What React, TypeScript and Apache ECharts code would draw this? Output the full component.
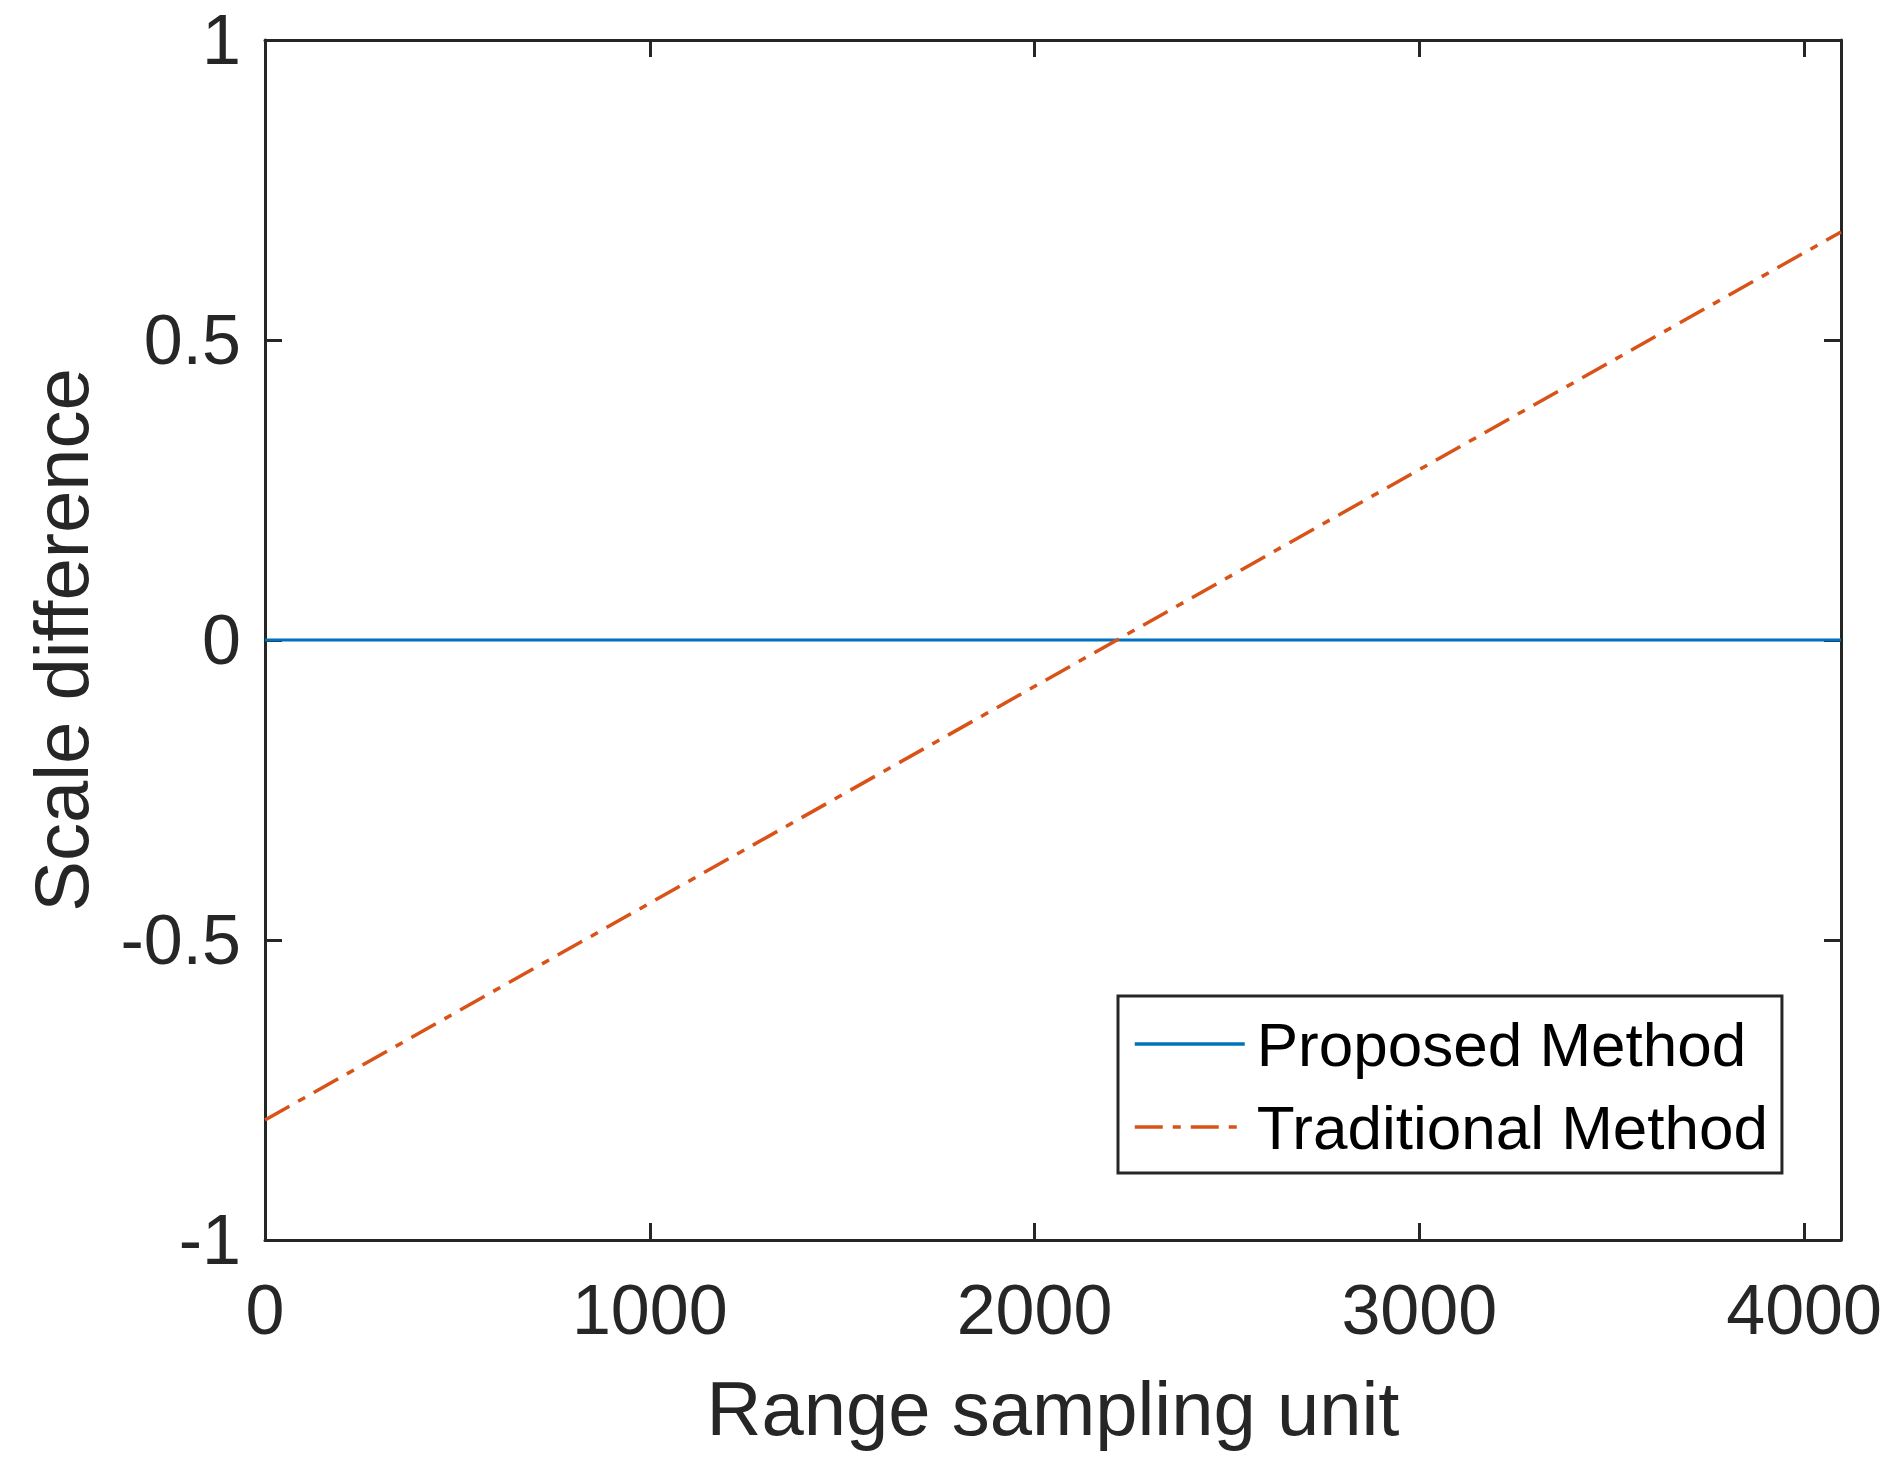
import React, { useEffect, useRef } from "react";
import * as echarts from "echarts";

const xTicks = [0, 1000, 2000, 3000, 4000];
const yTicks = [-1, -0.5, 0, 0.5, 1];
const xMax = 4096;
const proposedX = [0, 4096];
const proposedY = [0, 0];
const traditionalX = [0, 4096];
const traditionalY = [-0.8, 0.68];
const seriesNames = ["Proposed Method", "Traditional Method"];

const AX = "#262626";
const FONT = "Liberation Sans, Arial, Helvetica, sans-serif";

export default function App() {
  const ref = useRef<HTMLDivElement>(null);
  useEffect(() => {
    document.body.style.margin = "0";
    if (!ref.current) return;
    const chart = echarts.init(ref.current, undefined, { renderer: "svg" });
    const axisLine = { show: true, onZero: false, lineStyle: { color: AX, width: 3 } };
    const tick = { show: true, inside: true, length: 17, lineStyle: { color: AX, width: 3 } };
    const xBase = {
      type: "value" as const,
      min: 0,
      max: xMax,
      interval: 1000,
      splitLine: { show: false },
      axisLine,
      axisTick: tick,
    };
    const yBase = {
      type: "value" as const,
      min: -1,
      max: 1,
      interval: 0.5,
      splitLine: { show: false },
      axisLine,
      axisTick: tick,
    };
    chart.setOption({
      animation: false,
      backgroundColor: "#ffffff",
      grid: { left: 265, top: 40, width: 1576, height: 1200, containLabel: false },
      xAxis: [
        {
          ...xBase,
          position: "bottom",
          name: "Range sampling unit",
          nameLocation: "middle",
          nameGap: 130,
          nameTextStyle: { fontSize: 76, color: AX, fontFamily: FONT },
          axisLabel: {
            fontSize: 70,
            color: AX,
            fontFamily: FONT,
            margin: 35,
            showMaxLabel: false,
            formatter: (v: number) => (xTicks.includes(v) ? String(v) : ""),
          },
        },
        { ...xBase, position: "top", axisLabel: { show: false } },
      ],
      yAxis: [
        {
          ...yBase,
          position: "left",
          name: "Scale difference",
          nameLocation: "middle",
          nameGap: 166,
          nameTextStyle: { fontSize: 76, color: AX, fontFamily: FONT },
          axisLabel: {
            fontSize: 70,
            color: AX,
            fontFamily: FONT,
            margin: 24,
            formatter: (v: number) => (yTicks.includes(v) ? String(v) : ""),
          },
        },
        { ...yBase, position: "right", axisLabel: { show: false } },
      ],
      legend: {
        orient: "vertical",
        left: 1118,
        top: 996,
        padding: [13, 14, 11, 15],
        itemGap: 13,
        itemWidth: 110,
        itemHeight: 20,
        borderColor: AX,
        borderWidth: 3,
        backgroundColor: "#ffffff",
        data: seriesNames,
        itemStyle: { opacity: 0 },
        lineStyle: { width: 3.5 },
        textStyle: {
          fontSize: 62,
          color: "#000000",
          fontFamily: FONT,
          lineHeight: 70,
          padding: [0, 0, 0, 7],
        },
      },
      series: [
        {
          name: seriesNames[0],
          type: "line",
          xAxisIndex: 0,
          yAxisIndex: 0,
          showSymbol: false,
          symbol: "none",
          color: "#0072BD",
          lineStyle: { color: "#0072BD", width: 3 },
          data: proposedX.map((x, i) => [x, proposedY[i]]),
        },
        {
          name: seriesNames[1],
          type: "line",
          xAxisIndex: 0,
          yAxisIndex: 0,
          showSymbol: false,
          symbol: "none",
          color: "#D95319",
          lineStyle: { color: "#D95319", width: 3.5, type: [28, 10, 8, 10] },
          data: traditionalX.map((x, i) => [x, traditionalY[i]]),
        },
      ],
    });
    return () => chart.dispose();
  }, []);
  return <div ref={ref} style={{ width: 1899, height: 1480 }} />;
}
